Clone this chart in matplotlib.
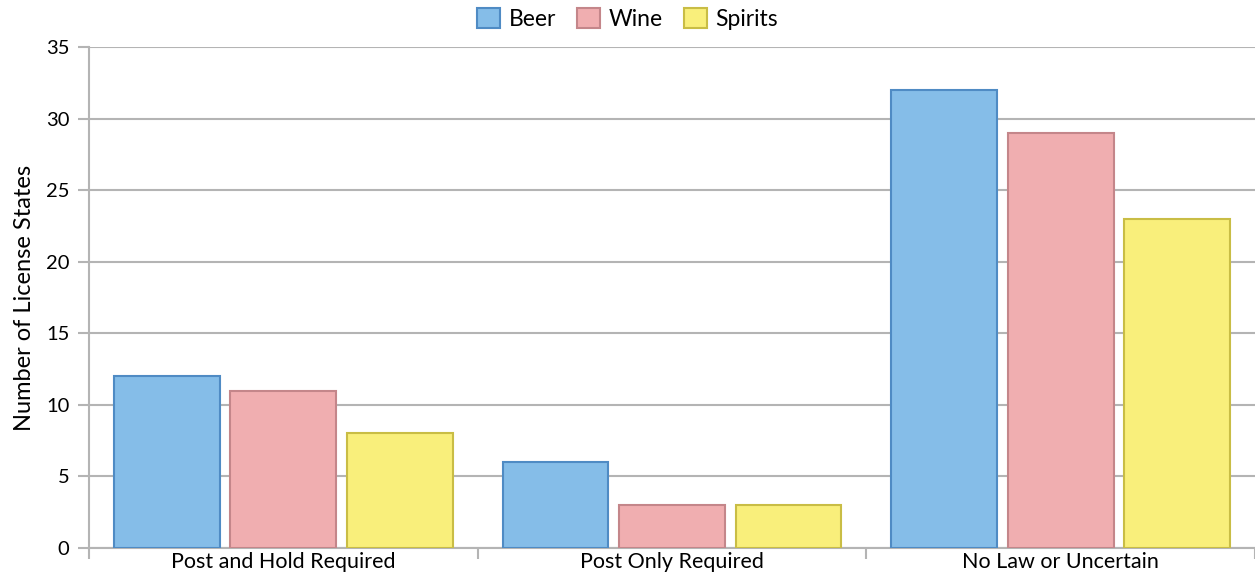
import matplotlib
matplotlib.use('Agg')
import matplotlib.pyplot as plt
import numpy as np

categories = ['Post and Hold Required', 'Post Only Required', 'No Law or Uncertain']
series = ['Beer', 'Wine', 'Spirits']
beer = [12, 6, 32]
wine = [11, 3, 29]
spirits = [8, 3, 23]

fills = ['#85BDE8', '#F0AEB0', '#F9EF7B']
edges = ['#4F8BC4', '#C4868A', '#C9BD45']
grid_color = '#B4B4B4'

plt.rcParams['font.family'] = ['Lato', 'DejaVu Sans']

fig, ax = plt.subplots(figsize=(12.55, 5.82), dpi=100)
fig.subplots_adjust(left=89/1255, right=1.0, top=1 - 47/582, bottom=1 - 548/582)

x = np.arange(len(categories))
offsets = [-0.3, 0.0, 0.3]
width = 0.272
for vals, name, fc, ec, off in zip([beer, wine, spirits], series, fills, edges, offsets):
    ax.bar(x + off, vals, width, color=fc, edgecolor=ec, linewidth=1.5, label=name, zorder=3)

ax.set_ylim(0, 35)
ax.set_yticks(range(0, 36, 5))
ax.set_xlim(-0.5, 2.5)
ax.set_xticks([-0.5, 0.5, 1.5, 2.5])
ax.set_xticklabels([])
ax.set_xticks(x, minor=True)
ax.set_xticklabels(categories, minor=True, fontsize=15.5)
ax.tick_params(axis='x', which='minor', length=0, pad=3)
ax.tick_params(axis='x', which='major', length=8, color=grid_color, width=1.5)
ax.tick_params(axis='y', length=8, color=grid_color, width=1.5, labelsize=14.5, pad=6)

ax.yaxis.grid(True, color=grid_color, linewidth=1.5, zorder=0)
ax.set_axisbelow(True)
for s in ['top', 'right']:
    ax.spines[s].set_visible(False)
for s in ['left', 'bottom']:
    ax.spines[s].set_color(grid_color)
    ax.spines[s].set_linewidth(1.5)

ax.set_ylabel('Number of License States', fontsize=17, labelpad=8)

fig.legend(loc='upper center', bbox_to_anchor=(0.5, 1.022), ncol=3, frameon=False,
           fontsize=16.5, handlelength=1.0, handleheight=1.0, handletextpad=0.4, columnspacing=0.9)

plt.savefig('out.png', dpi=100)
